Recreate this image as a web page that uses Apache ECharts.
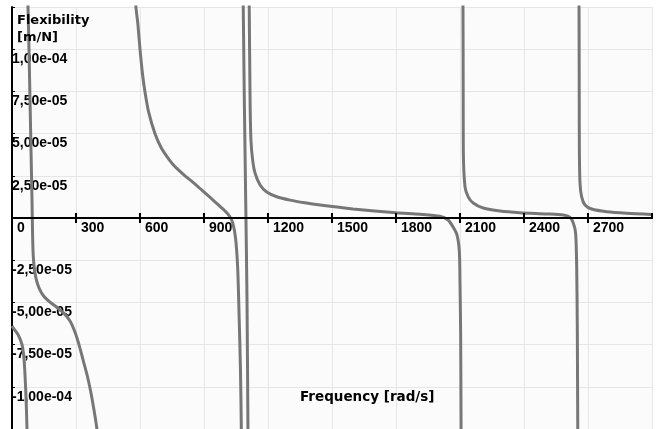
<!DOCTYPE html>
<html>
<head>
<meta charset="utf-8">
<script src="https://cdn.jsdelivr.net/npm/echarts@6/dist/echarts.min.js"></script>
<style>
html,body{margin:0;padding:0;background:#fff;}
#chart{width:659px;height:429px;}
</style>
</head>
<body>
<div id="chart"></div>
<script>
// Frequency [rad/s] vs Flexibility [m/N]; each branch between poles is its own array.
const branchA = [[0,-6.4e-5],[4.7,-6.5e-5],[28,-6.9e-5],[47,-7.5e-5],[56,-8.3e-5],[61,-9.3e-5],[66,-1.07e-4],[70,-1.24e-4],[73,-1.45e-4]];
const branchB = [[73.6,1.35e-4],[75,1.25e-4],[79.7,9.95e-5],[84.4,6.99e-5],[89.1,4.03e-5],[93.8,1.07e-5],[96.1,-7.1e-6],[98.4,-1.9e-5],[103,-2.8e-5],[112,-3.55e-5],[127,-4.15e-5],[150,-4.65e-5],[180,-5.0e-5],[211,-5.3e-5],[244,-5.65e-5],[272,-6.1e-5],[295,-6.75e-5],[314,-7.5e-5],[333,-8.4e-5],[352,-9.3e-5],[370,-1.035e-4],[384,-1.135e-4],[398,-1.25e-4],[408,-1.4e-4]];
const branchC = [[578,1.35e-4],[581,1.25e-4],[590,1.15e-4],[600,1.0e-4],[612,8.5e-5],[623,7.5e-5],[640,6.3e-5],[670,5.0e-5],[700,4.15e-5],[740,3.4e-5],[760,3.1e-5],[780,2.85e-5],[811,2.5e-5],[850,2.1e-5],[890,1.65e-5],[930,1.2e-5],[970,7.5e-6],[1000,4e-6],[1020,1e-6],[1035,-3e-6],[1048,-1.2e-5],[1058,-3e-5],[1065,-6e-5],[1071,-9e-5],[1075,-1.25e-4],[1077,-1.4e-4]];
const branchE = [[1082,1.4e-4],[1084,1.25e-4],[1089,6.99e-5],[1095.5,1.07e-5],[1101.6,-4.86e-5],[1106,-1.25e-4],[1107,-1.4e-4]];
const branchD = [[1111,1.32e-4],[1112,1.25e-4],[1116,6.99e-5],[1120,4.62e-5],[1128,3.44e-5],[1139,2.67e-5],[1163,1.95e-5],[1194,1.54e-5],[1241,1.26e-5],[1303,1.06e-5],[1373,9.0e-6],[1444,7.7e-6],[1598,5.4e-6],[1800,3.1e-6],[1912,2.2e-6],[2006,1.0e-6],[2044,-1.2e-6],[2067,-5.2e-6],[2086,-1.0e-5],[2097,-2.0e-5],[2100,-3.85e-5],[2103,-6.8e-5],[2105,-1.25e-4],[2106,-1.4e-4]];
const branchF = [[2112,1.32e-4],[2114,1.25e-4],[2115,6.99e-5],[2115.5,4.03e-5],[2123.5,1.84e-5],[2139,1.24e-5],[2162,8.9e-6],[2209,5.9e-6],[2287.5,4.1e-6],[2381,3.1e-6],[2506,2.4e-6],[2584,1.8e-6],[2616,4e-7],[2631,-3.0e-6],[2642,-8.9e-6],[2647,-2.9e-5],[2650,-6.8e-5],[2652,-1.25e-4],[2653,-1.4e-4]];
const branchG = [[2657,1.32e-4],[2658,1.25e-4],[2659,6.99e-5],[2659.5,4.03e-5],[2662.5,2.07e-5],[2670.5,1.24e-5],[2686,7.7e-6],[2717,5.3e-6],[2788,3.7e-6],[2881,2.8e-6],[3000,2.1e-6]];

const xTickLabels = ['0','300','600','900','1200','1500','1800','2100','2400','2700'];
const yTickLabels = ['', '-1,00e-04','-7,50e-05','-5,00e-05','-2,50e-05','','2,50e-05','5,00e-05','7,50e-05','1,00e-04',''];
const xTitle = 'Frequency [rad/s]';
const yTitle = 'Flexibility\n[m/N]';

const branches = [branchA, branchB, branchC, branchE, branchD, branchF, branchG];

const chart = echarts.init(document.getElementById('chart'), null, {renderer:'canvas'});
const numFont = 'Liberation Sans';
const xRange = {type:'value', min:0, max:3000, interval:300};
const hiddenY = {type:'value', min:0, max:1, show:false};
chart.setOption({
  animation:false,
  backgroundColor:'#ffffff',
  grid:[
    {left:12, top:7, right:7, bottom:0, show:true, backgroundColor:'#fbfbfb', borderWidth:0, outerBoundsMode:'none'},
    {left:12, top:7, right:7, height:211, show:false, outerBoundsMode:'none'},
    {left:12, top:218, right:7, bottom:0, show:false, outerBoundsMode:'none'}
  ],
  xAxis:[
    Object.assign({gridIndex:0, position:'bottom', axisLine:{show:false}, axisTick:{show:false}, axisLabel:{show:false},
      splitLine:{show:true, lineStyle:{color:'#e6e6e6', width:1}}}, xRange),
    Object.assign({gridIndex:1, position:'bottom', z:5,
      axisLine:{show:true, onZero:false, lineStyle:{color:'#000', width:2}},
      axisTick:{show:true, length:5, lineStyle:{color:'#000', width:2}},
      axisLabel:{show:true, showMaxLabel:false, color:'#000', fontWeight:'bold', fontFamily:numFont, fontSize:14,
        align:'left', margin:3, padding:[0,0,0,5],
        formatter:function(v){ const i=Math.round(v/300); return i<xTickLabels.length?xTickLabels[i]:''; }},
      splitLine:{show:false}}, xRange),
    Object.assign({gridIndex:2, position:'top', z:5,
      axisLine:{show:true, onZero:false, lineStyle:{color:'#000', width:2}},
      axisTick:{show:true, length:5, lineStyle:{color:'#000', width:2}},
      axisLabel:{show:false}, splitLine:{show:false}}, xRange)
  ],
  yAxis:[
    {gridIndex:0, type:'value', min:-1.25e-4, max:1.25e-4, interval:2.5e-5,
      axisLine:{show:true, onZero:false, lineStyle:{color:'#000', width:2}},
      axisTick:{show:true, inside:true, length:3, lineStyle:{color:'#000', width:1}},
      axisLabel:{show:true, inside:true, margin:0, color:'#000', fontWeight:'bold', fontFamily:numFont, fontSize:14,
        align:'left', verticalAlign:'top', padding:[3,0,0,0],
        formatter:function(v){ const i=Math.round(v/2.5e-5)+5; return yTickLabels[i]||''; }},
      splitLine:{show:true, lineStyle:{color:'#e6e6e6', width:1}}},
    Object.assign({gridIndex:1}, hiddenY),
    Object.assign({gridIndex:2}, hiddenY)
  ],
  graphic:[
    {type:'text', left:17, top:12, z:100, style:{text:yTitle, font:'bold 13px "DejaVu Sans"', fill:'#000', lineHeight:17}},
    {type:'text', left:300, top:389, z:100, style:{text:xTitle, font:'bold 13.5px "DejaVu Sans"', fill:'#000', lineHeight:17}}
  ],
  series: branches.map(function(b){
    return {type:'line', data:b, xAxisIndex:0, yAxisIndex:0, showSymbol:false, symbol:'none', clip:true,
      smooth:0.25,
      lineStyle:{color:'#777777', width:3}, emphasis:{disabled:true}, silent:true};
  })
});
</script>
</body>
</html>
